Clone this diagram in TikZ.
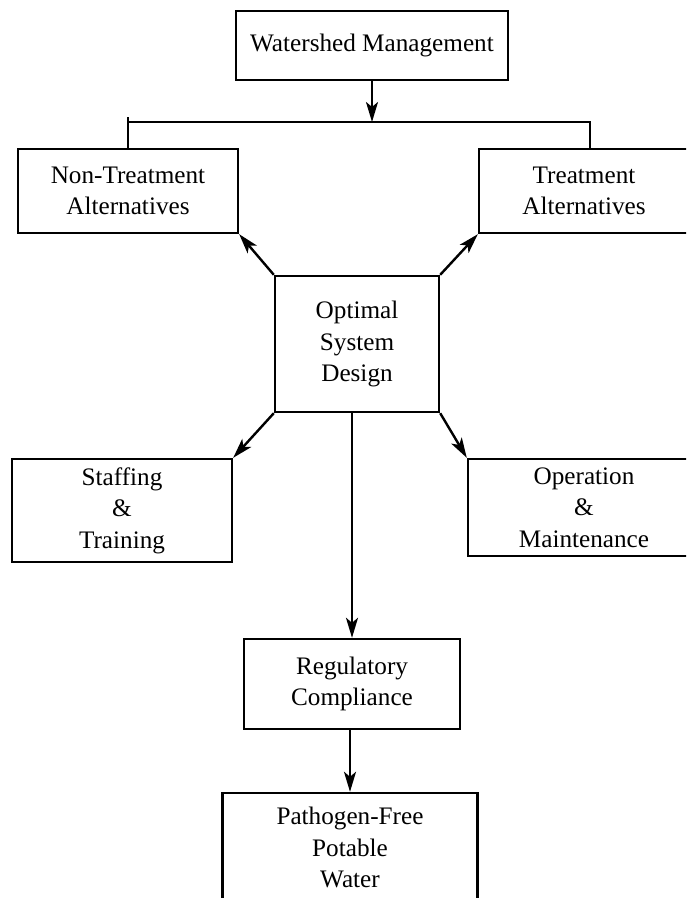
\documentclass[tikz,border=0pt]{standalone}
\usepackage{fontspec}
\setmainfont{Liberation Serif}
\usetikzlibrary{arrows.meta}

\begin{document}
\begin{tikzpicture}[x=0.5pt,y=-0.5pt]
	\tikzstyle{box}=[draw, line width=1.2pt, align=center, inner sep=0pt, font=\fontsize{12.6}{15.8}\selectfont]
	\tikzstyle{link}=[line width=1.2pt]
	\tikzstyle{flow}=[link, -{Stealth[length=10pt,width=6pt,inset=2.5pt]}]
	\clip (0,0) rectangle (686,898);
	% boxes
	\node[box, minimum width=136pt, minimum height=34.5pt] (shed) at (372,45.5) {Watershed Management};
	\node[box, minimum width=110pt, minimum height=42pt] (nontreat) at (128,191) {Non-Treatment\\Alternatives};
	\node[box, minimum width=105pt, minimum height=42pt] (treat) at (584,191) {Treatment\\Alternatives};
	\node[box, minimum width=82pt, minimum height=68pt] (design) at (357,344) {Optimal\\System\\Design};
	\node[box, minimum width=110pt, minimum height=51.5pt] (staff) at (122,510.5) {Staffing\\\&\\Training};
	\node[box, minimum width=116pt, minimum height=48.5pt] (operate) at (584,507.5) {Operation\\\&\\Maintenance};
	\node[box, minimum width=108pt, minimum height=45pt] (comply) at (352,684) {Regulatory\\Compliance};
	\node[box, minimum width=127.5pt, minimum height=54.5pt] (water) at (350,847.5) {Pathogen-Free\\Potable\\Water};
	% connectors
	\coordinate (split) at (372,122);
	\coordinate (tdrop) at (590,149);
	\draw[flow] (shed.south -| split) -- (split);
	\draw[link] (nontreat.north) -- ++(0,-31);
	\draw[link] (nontreat.north |- split) -- (split) -| (tdrop);
	\draw[flow] (design.north west) -- (nontreat.south east);
	\draw[flow] (design.north east) -- (treat.south west);
	\draw[flow] (design.south west) -- (staff.north east);
	\draw[flow] (design.south east) -- (operate.north west);
	\draw[flow] (design.south -| comply.north) -- (comply.north);
	\draw[flow] (comply.south -| water.north) -- (water.north);
\end{tikzpicture}
\end{document}
